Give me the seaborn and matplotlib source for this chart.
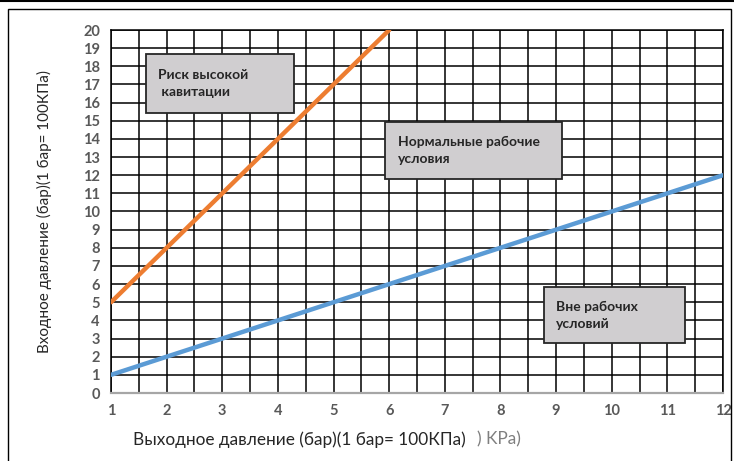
import numpy as np
import pandas as pd
import matplotlib.pyplot as plt
import matplotlib as mpl
import seaborn as sns
from matplotlib.patches import Rectangle

sns.set_style('white')
plt.rcParams['font.family'] = ['Lato', 'DejaVu Sans']

# data
outlet_high = [1, 2, 3, 4, 5, 6]
inlet_high = [5, 8, 11, 14, 17, 20]
outlet_low = [1, 2, 3, 4, 5, 6, 7, 8, 9, 10, 11, 12]
inlet_low = [1, 2, 3, 4, 5, 6, 7, 8, 9, 10, 11, 12]
x_ticks = list(range(1, 13))
y_ticks = list(range(0, 21))

df_high = pd.DataFrame({'x': outlet_high, 'y': inlet_high})
df_low = pd.DataFrame({'x': outlet_low, 'y': inlet_low})

fig = plt.figure(figsize=(7.34, 4.61), dpi=100)
ax = fig.add_axes([111/734, 68/461, 612/734, 363/461])

sns.lineplot(data=df_high, x='x', y='y', color='#ed7d31', lw=3.2, ax=ax, zorder=5)
sns.lineplot(data=df_low, x='x', y='y', color='#5b9bd5', lw=3.2, ax=ax, zorder=5)

ax.set_xlim(1, 12)
ax.set_ylim(0, 20)
ax.set_xticks(x_ticks)
ax.set_xticks(np.arange(1.5, 12, 1), minor=True)
ax.set_yticks(y_ticks)
ax.grid(True, which='major', color='black', lw=1.1)
ax.grid(True, which='minor', axis='x', color='black', lw=1.1)
ax.tick_params(which='both', length=0, labelsize=10.5, labelcolor='#595959', pad=8)
for lab in ax.get_xticklabels() + ax.get_yticklabels():
    lab.set_fontweight('bold')
for s in ['left', 'right', 'top']:
    ax.spines[s].set_color('black')
    ax.spines[s].set_linewidth(1.1)
ax.spines['bottom'].set_color('#a6a6a6')
ax.spines['bottom'].set_linewidth(1.6)
ax.set_xlabel('')
ax.set_ylabel('Входное давление (бар)(1 бар= 100КПа)', fontsize=11, labelpad=22)

# text boxes
boxes = [
    (1.63, 15.4, 2.66, 3.3, 'Риск высокой\n кавитации', 1.85, 17.05),
    (5.93, 11.8, 3.17, 3.15, 'Нормальные рабочие\nусловия', 6.15, 13.35),
    (8.78, 2.75, 2.54, 3.1, 'Вне рабочих\nусловий', 9.0, 4.25),
]
for bx, by, bw, bh, txt, tx, ty in boxes:
    ax.add_patch(Rectangle((bx, by), bw, bh, facecolor='#d0ced0', edgecolor='#262626',
                           lw=1.3, zorder=6))
    ax.text(tx, ty, txt, fontsize=10, fontweight='bold', va='center', ha='left',
            linespacing=1.5, zorder=7)

fig.text(133/734, 1 - 440/461, 'Выходное давление (бар)(1 бар= 100КПа)', fontsize=12.4,
         va='center', ha='left')
fig.text(477/734, 1 - 439/461, ') KPa)', fontsize=12.4, color='#7f7f7f',
         va='center', ha='left')

# outer frames
fig.patches.append(Rectangle((8/734, -0.05), 723/734, 1.05 - 9/461, transform=fig.transFigure,
                             fill=False, edgecolor='black', lw=1.0))
fig.lines.append(plt.Line2D([0, 1], [1 - 1/461, 1 - 1/461], transform=fig.transFigure,
                            color='black', lw=1.5))

plt.savefig('out.png', dpi=100)
